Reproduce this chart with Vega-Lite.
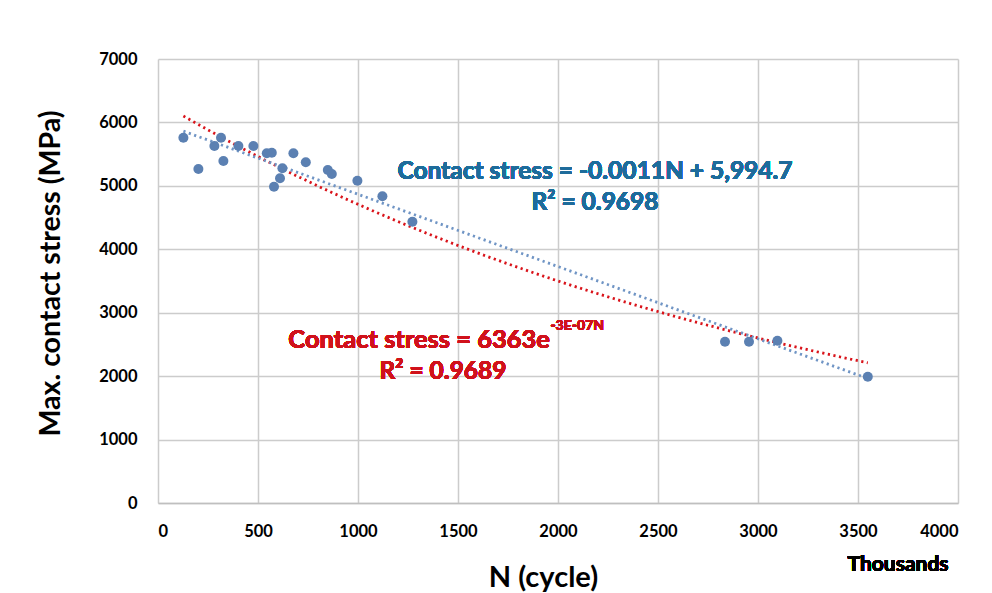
{
  "$schema": "https://vega.github.io/schema/vega-lite/v6.json",
  "width": 800,
  "height": 444,
  "autosize": {"type": "none"},
  "padding": {"left": 158, "top": 59, "right": 34, "bottom": 90},
  "background": "white",
  "config": {
    "view": {"stroke": null},
    "font": "Lato",
    "axis": {
      "labelFont": "Lato",
      "labelFontWeight": "bold",
      "labelFontSize": 16.5,
      "labelColor": "#000000",
      "titleFont": "Lato",
      "titleFontWeight": "bold",
      "titleColor": "#000000",
      "gridColor": "#cccccc",
      "gridWidth": 1.5,
      "ticks": false,
      "format": "d"
    }
  },
  "data": {
    "values": [
      {"N": 127, "stress": 5759},
      {"N": 202, "stress": 5266},
      {"N": 282, "stress": 5628},
      {"N": 315, "stress": 5759},
      {"N": 327, "stress": 5392},
      {"N": 402, "stress": 5628},
      {"N": 477, "stress": 5628},
      {"N": 544, "stress": 5513},
      {"N": 569, "stress": 5523},
      {"N": 580, "stress": 4987},
      {"N": 610, "stress": 5119},
      {"N": 622, "stress": 5277},
      {"N": 677, "stress": 5513},
      {"N": 739, "stress": 5371},
      {"N": 849, "stress": 5250},
      {"N": 869, "stress": 5187},
      {"N": 997, "stress": 5081},
      {"N": 1122, "stress": 4835},
      {"N": 1272, "stress": 4435},
      {"N": 2835, "stress": 2543},
      {"N": 2955, "stress": 2543},
      {"N": 3097, "stress": 2559},
      {"N": 3549, "stress": 1991}
    ]
  },
  "encoding": {
    "x": {
      "field": "N",
      "type": "quantitative",
      "scale": {"domain": [0, 4000], "nice": false},
      "axis": {
        "values": [0, 500, 1000, 1500, 2000, 2500, 3000, 3500, 4000],
        "title": "N (cycle)",
        "titleFontSize": 29,
        "titleX": 385,
        "titleY": 74,
        "titleBaseline": "middle",
        "labelPadding": 20,
        "domainColor": "#bfbfbf",
        "domainWidth": 1.5
      }
    },
    "y": {
      "field": "stress",
      "type": "quantitative",
      "scale": {"domain": [0, 7000], "nice": false},
      "axis": {
        "values": [0, 1000, 2000, 3000, 4000, 5000, 6000, 7000],
        "title": "Max. contact stress (MPa)",
        "titleFontSize": 28.5,
        "titleX": -108,
        "titleY": 214,
        "titleBaseline": "middle",
        "labelPadding": 21,
        "domain": false
      }
    }
  },
  "layer": [
    {
      "transform": [{"regression": "stress", "on": "N", "method": "exp"}],
      "mark": {"type": "line", "color": "#d9141b", "strokeWidth": 2.8, "strokeDash": [2.2, 3.5], "clip": true}
    },
    {
      "transform": [{"regression": "stress", "on": "N", "method": "linear"}],
      "mark": {"type": "line", "color": "#7095c5", "strokeWidth": 2.8, "strokeDash": [2.2, 3.5], "clip": true}
    },
    {
      "mark": {"type": "circle", "size": 100, "color": "#5b80b2", "opacity": 1}
    },
    {
      "mark": {"type": "text", "text": "Contact stress = -0.0011N + 5,994.7", "color": "#1e6c9b", "fontSize": 24.5, "fontWeight": "bold", "font": "Lato", "align": "center", "baseline": "middle"},
      "encoding": {"x": {"datum": 2185}, "y": {"datum": 5218}}
    },
    {
      "mark": {"type": "text", "text": "R² = 0.9698", "color": "#1e6c9b", "fontSize": 24.5, "fontWeight": "bold", "font": "Lato", "align": "center", "baseline": "middle"},
      "encoding": {"x": {"datum": 2185}, "y": {"datum": 4730}}
    },
    {
      "mark": {"type": "text", "text": "Contact stress = 6363e", "color": "#d0121b", "fontSize": 25.5, "fontWeight": "bold", "font": "Lato", "align": "right", "baseline": "middle"},
      "encoding": {"x": {"datum": 1960}, "y": {"datum": 2570}}
    },
    {
      "mark": {"type": "text", "text": "-3E-07N", "color": "#d0121b", "fontSize": 14, "fontWeight": "bold", "font": "Lato", "align": "left", "baseline": "middle"},
      "encoding": {"x": {"datum": 1962}, "y": {"datum": 2790}}
    },
    {
      "mark": {"type": "text", "text": "R² = 0.9689", "color": "#d0121b", "fontSize": 24.5, "fontWeight": "bold", "font": "Lato", "align": "center", "baseline": "middle"},
      "encoding": {"x": {"datum": 1425}, "y": {"datum": 2065}}
    },
    {
      "mark": {"type": "text", "text": "Thousands", "color": "#000000", "fontSize": 21, "fontWeight": "bold", "font": "Lato", "align": "center", "baseline": "middle", "clip": false},
      "encoding": {"x": {"datum": 3700}, "y": {"datum": -980}}
    }
  ]
}
